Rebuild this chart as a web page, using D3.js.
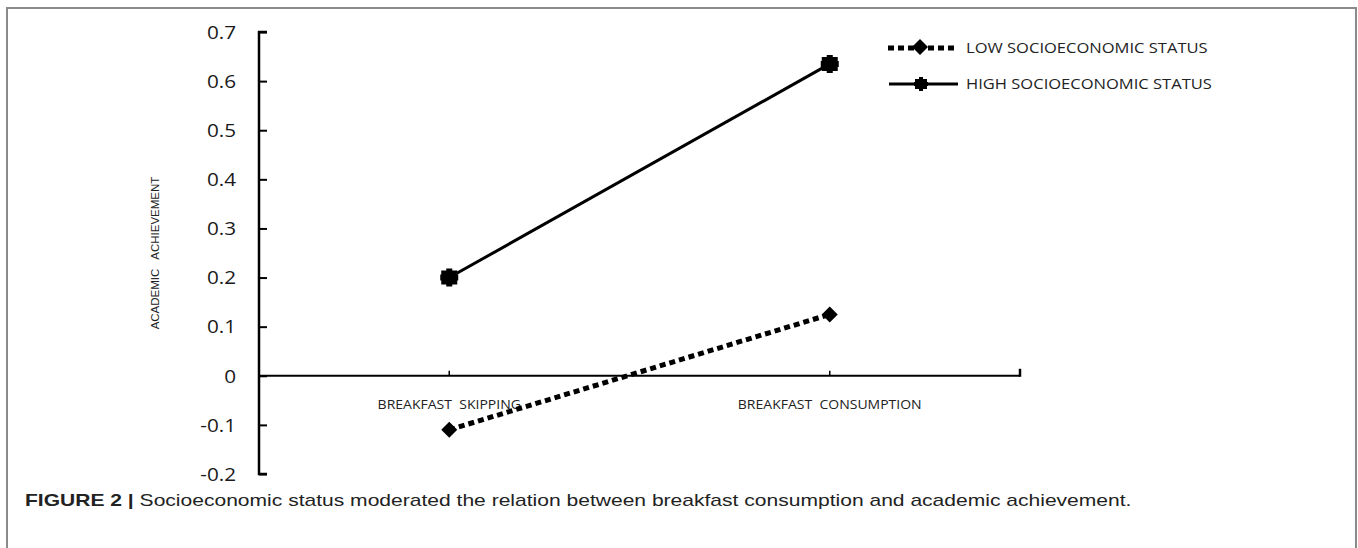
<!DOCTYPE html>
<html><head><meta charset="utf-8">
<script src="https://cdn.jsdelivr.net/npm/d3@7"></script>
<style>body{margin:0;background:#fff}svg{display:block}</style>
</head><body>
<script>
const categories = ["BREAKFAST  SKIPPING", "BREAKFAST  CONSUMPTION"];
const lowSES = [-0.11, 0.125];
const highSES = [0.2, 0.635];
const yTicks = [0.7, 0.6, 0.5, 0.4, 0.3, 0.2, 0.1, 0, -0.1, -0.2];
const yTickLabels = ["0.7", "0.6", "0.5", "0.4", "0.3", "0.2", "0.1", "0", "-0.1", "-0.2"];
const seriesNames = ["LOW SOCIOECONOMIC STATUS", "HIGH SOCIOECONOMIC STATUS"];
const yTitle = "ACADEMIC   ACHIEVEMENT";
const captionBold = "FIGURE 2 |";
const captionText = " Socioeconomic status moderated the relation between breakfast consumption and academic achievement.";

const W = 1358, H = 548;
const svg = d3.select("body").append("svg").attr("width", W).attr("height", H);

// horizontal stretch helper (the reference figure is stretched horizontally)
function stretch(sel, sx) {
  sel.each(function() {
    const w = this.getComputedTextLength();
    d3.select(this).attr("textLength", w * sx).attr("lengthAdjust", "spacingAndGlyphs");
  });
}

// frame
svg.append("path").attr("d", `M7,${H} V8 H1356 V${H}`).attr("fill", "none").attr("stroke", "#8a8a8a").attr("stroke-width", 2);

const x0 = 259, x1 = 1020;
const x = d3.scaleBand().domain(categories).range([x0, x1]);
const y = d3.scaleLinear().domain([-0.2, 0.7]).range([474, 32]);

const fontTick = "'Open Sans', 'Noto Sans', sans-serif";

// y axis
const yAxis = d3.axisRight(y).tickValues(yTicks).tickSize(8).tickFormat((d, i) => yTickLabels[i]);
const gy = svg.append("g").attr("transform", `translate(${x0},0)`).call(yAxis);
gy.select(".domain").attr("stroke", "#000").attr("stroke-width", 2.5).attr("d", `M8,${y(0.7)}H0V${y(-0.2)}H8`);
gy.selectAll(".tick line").attr("stroke", "#000").attr("stroke-width", 2);
const tl = gy.selectAll(".tick text").attr("x", -23).attr("text-anchor", "end").attr("dy", "0.35em")
  .attr("font-family", fontTick).attr("font-size", 18).attr("fill", "#1a1a1a");
stretch(tl, 1.15);

// x axis
const gx = svg.append("g").attr("transform", `translate(0,${y(0)})`);
gx.append("line").attr("x1", x0).attr("x2", x1).attr("y1", 0).attr("y2", 0).attr("stroke", "#000").attr("stroke-width", 2);
const cx = d => x(d) + x.bandwidth()/2;
gx.selectAll(".ct").data(categories).join("line").attr("class", "ct")
  .attr("x1", d => cx(d)).attr("x2", d => cx(d))
  .attr("y1", 0).attr("y2", -5).attr("stroke", "#000").attr("stroke-width", 1.5);
gx.append("line").attr("x1", x1).attr("x2", x1).attr("y1", 1).attr("y2", -7).attr("stroke", "#000").attr("stroke-width", 2.5);
const cl = gx.selectAll(".cl").data(categories).join("text").attr("class", "cl")
  .attr("x", d => cx(d)).attr("y", 33).attr("text-anchor", "middle")
  .attr("font-family", fontTick).attr("font-size", 12.5).attr("fill", "#222")
  .attr("xml:space", "preserve").style("white-space", "pre").text(d => d);
stretch(cl, 1.12);

// y title
svg.append("text").attr("transform", `translate(159,${253}) rotate(-90)`).attr("text-anchor", "middle")
  .attr("font-family", "'Liberation Sans', Arial, sans-serif").attr("font-size", 11.5).attr("fill", "#222")
  .attr("xml:space", "preserve").style("white-space", "pre").text(yTitle);

const line = d3.line().x((d, i) => cx(categories[i])).y(d => y(d));

// markers
const diamondPath = "M0,-8 L8,0 L0,8 L-8,0 Z";
const squarePath = "M-8,-7 H-3 V-9 H3 V-7 H8 V-3 H9 V3 H8 V7 H3 V9 H-3 V7 H-8 V3 H-9 V-3 H-8 Z";
const squareSmall = "M-6,-5 H-2 V-7 H2 V-5 H6 V-2 H7 V2 H6 V5 H2 V7 H-2 V5 H-6 V2 H-7 V-2 H-6 Z";

svg.append("path").datum(lowSES).attr("d", line).attr("fill", "none").attr("stroke", "#000")
  .attr("stroke-width", 5).attr("stroke-dasharray", "6,4");
svg.append("path").datum(highSES).attr("d", line).attr("fill", "none").attr("stroke", "#000").attr("stroke-width", 3);

svg.selectAll(".mlow").data(lowSES).join("path").attr("class", "mlow")
  .attr("transform", (d, i) => `translate(${cx(categories[i])},${y(d)})`).attr("d", diamondPath).attr("fill", "#000");
svg.selectAll(".mhigh").data(highSES).join("path").attr("class", "mhigh")
  .attr("transform", (d, i) => `translate(${cx(categories[i])},${y(d)})`).attr("d", squarePath).attr("fill", "#000");

// legend
const lg = svg.append("g");
const legY = [48, 84];
lg.append("line").attr("x1", 888).attr("x2", 958).attr("y1", legY[0]).attr("y2", legY[0]).attr("stroke", "#000").attr("stroke-width", 5).attr("stroke-dasharray", "6,4");
lg.append("path").attr("transform", `translate(920,${legY[0]-1})`).attr("d", diamondPath).attr("fill", "#000");
lg.append("line").attr("x1", 889).attr("x2", 958).attr("y1", legY[1]).attr("y2", legY[1]).attr("stroke", "#000").attr("stroke-width", 3);
lg.append("path").attr("transform", `translate(921,${legY[1]})`).attr("d", squareSmall).attr("fill", "#000");
const lt = lg.selectAll(".lt").data(seriesNames).join("text").attr("class", "lt")
  .attr("x", 966).attr("y", (d, i) => legY[i]).attr("dy", "0.35em")
  .attr("font-family", fontTick).attr("font-size", 14.5).attr("fill", "#222").text(d => d);
stretch(lt, 1.14);

// caption
const cap = svg.append("text").attr("x", 25).attr("y", 506).attr("font-family", "'Liberation Sans', Arial, sans-serif").attr("font-size", 16).attr("fill", "#222");
cap.append("tspan").attr("font-weight", "bold").text(captionBold);
cap.append("tspan").text(captionText);
const cw = cap.node().getComputedTextLength();
cap.attr("transform", `translate(25,0) scale(${1107 / cw},1) translate(-25,0)`);
</script>
</body></html>
